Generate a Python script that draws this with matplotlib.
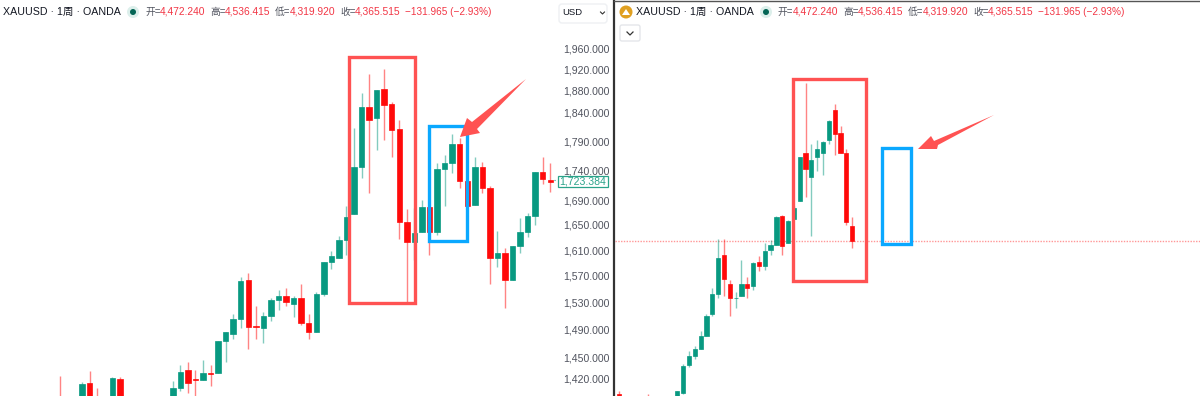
import matplotlib
matplotlib.use("Agg")
import matplotlib.pyplot as plt
from matplotlib.patches import Rectangle, Polygon, Circle, FancyBboxPatch

plt.rcParams["font.family"] = ["Liberation Sans", "Noto Sans CJK SC", "DejaVu Sans"]

# left chart: week index, open, high, low, close
left_week = [0, 1, 4, 5, 6, 8, 9, 16, 17, 18, 19, 20, 21, 22, 23, 24, 25, 26, 27, 28, 29, 30, 31, 32, 33,
             34, 35, 36, 37, 38, 39, 40, 41, 42, 43, 44, 45, 46, 47, 48, 49, 50, 51, 52, 53, 54, 55, 56,
             57, 58, 59, 60, 61, 62, 63, 64, 65, 66]
left_open = [1380, 1395, 1380, 1414, 1392, 1375, 1420, 1385, 1408, 1432, 1420, 1418, 1428, 1428, 1473, 1484,
             1505, 1563, 1495, 1492, 1510, 1534, 1540, 1528, 1537, 1500, 1486, 1543, 1592, 1598, 1626, 1667,
             1746, 1851, 1831, 1883, 1856, 1811, 1654, 1622, 1638, 1679, 1639, 1742, 1753, 1786, 1722, 1682,
             1746, 1710, 1597, 1605, 1563, 1616, 1638, 1664, 1737, 1724]
left_high = [1397, 1424, 1416, 1431, 1407, 1422, 1422, 1417, 1439, 1443, 1432, 1446, 1439, 1474, 1486, 1512,
             1568, 1575, 1525, 1515, 1536, 1549, 1552, 1540, 1557, 1512, 1545, 1592, 1608, 1632, 1680, 1813,
             1877, 1911, 1881, 1920, 1860, 1827, 1675, 1677, 1690, 1679, 1753, 1766, 1802, 1795, 1722, 1763,
             1754, 1713, 1640, 1613, 1616, 1661, 1669, 1737, 1763, 1753]
left_low = [1375, 1370, 1370, 1370, 1370, 1370, 1370, 1380, 1403, 1401, 1393, 1418, 1410, 1428, 1443, 1476,
            1492, 1462, 1477, 1471, 1503, 1518, 1524, 1509, 1497, 1477, 1486, 1539, 1580, 1598, 1602, 1667,
            1727, 1702, 1775, 1792, 1763, 1627, 1531, 1595, 1638, 1603, 1634, 1680, 1735, 1710, 1678, 1682,
            1702, 1558, 1583, 1522, 1563, 1605, 1630, 1650, 1717, 1703]
left_close = [1390, 1385, 1413, 1380, 1380, 1421, 1375, 1408, 1429, 1415, 1418, 1428, 1427, 1473, 1486, 1505,
              1562, 1493, 1493, 1510, 1534, 1540, 1530, 1537, 1500, 1486, 1543, 1592, 1600, 1626, 1663, 1746,
              1851, 1827, 1881, 1854, 1809, 1654, 1622, 1637, 1679, 1639, 1742, 1753, 1786, 1722, 1680, 1746,
              1710, 1597, 1605, 1563, 1616, 1638, 1664, 1737, 1725, 1720]

# right chart, drawn on the same kind of price scale
right_week = [0, 5, 10, 11, 12, 13, 14, 15, 16, 17, 18, 19, 20, 21, 22, 23, 24, 25, 26, 27, 28, 29, 30, 31,
              32, 33, 34, 35, 36, 37, 38, 39, 40]
right_open = [1400, 1392, 1385, 1401, 1439, 1452, 1462, 1481, 1512, 1542, 1602, 1558, 1536, 1539, 1557, 1554,
              1591, 1585, 1610, 1618, 1664, 1621, 1659, 1688, 1770, 1729, 1763, 1770, 1792, 1845, 1804, 1770,
              1648]
right_high = [1404, 1400, 1404, 1441, 1459, 1467, 1488, 1513, 1552, 1627, 1627, 1563, 1545, 1595, 1569, 1591,
              1600, 1621, 1626, 1664, 1666, 1658, 1680, 1763, 1894, 1785, 1792, 1790, 1827, 1856, 1817, 1776,
              1663]
right_low = [1380, 1380, 1380, 1400, 1436, 1448, 1462, 1481, 1510, 1537, 1539, 1510, 1521, 1539, 1537, 1548,
             1577, 1579, 1602, 1618, 1602, 1621, 1659, 1688, 1695, 1632, 1739, 1732, 1786, 1766, 1770, 1649,
             1613]
right_close = [1385, 1385, 1403, 1438, 1452, 1462, 1480, 1510, 1542, 1597, 1565, 1537, 1537, 1558, 1552, 1590,
               1585, 1608, 1618, 1663, 1616, 1656, 1677, 1763, 1742, 1758, 1776, 1788, 1826, 1802, 1770, 1654,
               1624]

price_ticks = [1420, 1450, 1490, 1530, 1570, 1610, 1650, 1690, 1740, 1790, 1840, 1880, 1920, 1960]
last_price = 1723.384
last_close = 1624

header_labels = ["开=", "高=", "低=", "收="]
header_values = ["4,472.240", "4,536.415", "4,319.920", "4,365.515"]
header_change = "−131.965 (−2.93%)"

GREEN = "#089981"
RED = "#ff0a0a"
MARK = "#ff5252"
BLUE = "#0aa8ff"
W, H = 1200, 396
PRICE_TOP, PRICE_BOTTOM = 2054, 1396.6


def make_axes(fig, x0, x1, first_x, step):
    ax = fig.add_axes([x0 / W, 0, (x1 - x0) / W, 1])
    ax.set_xlim((x0 - first_x) / step, (x1 - first_x) / step)
    ax.set_yscale("log")
    ax.set_ylim(PRICE_BOTTOM, PRICE_TOP)
    ax.minorticks_off()
    ax.set_xticks([])
    ax.set_yticks([])
    for s in ax.spines.values():
        s.set_visible(False)
    return ax


def candles(ax, week, opens, highs, lows, closes, width):
    for k, o, h, l, c in zip(week, opens, highs, lows, closes):
        col = GREEN if c >= o else RED
        ax.vlines(k, l, h, color=col, linewidth=1, alpha=0.5, zorder=2)
        ax.bar(k, abs(c - o), bottom=min(o, c), width=width, color=col, edgecolor=col, linewidth=0.5, zorder=3)


def header(ov, name_x, dot_x, label_xs, value_xs, change_x):
    ov.text(name_x, 11.5, "XAUUSD · 1周 · OANDA", fontsize=7.65, color="#131722", va="center")
    ov.add_patch(Circle((dot_x, 12), 6, color="#dcefeb", lw=0))
    ov.add_patch(Circle((dot_x, 12), 3, color="#056656", lw=0))
    for lab, val, lx, vx in zip(header_labels, header_values, label_xs, value_xs):
        ov.text(lx, 12, lab, fontsize=7, color="#50535e", va="center")
        ov.text(vx, 12, val, fontsize=7.4, color="#f23645", va="center")
    ov.text(change_x, 12, header_change, fontsize=7.2, color="#f23645", va="center")


fig = plt.figure(figsize=(W / 100, H / 100), dpi=100, facecolor="white")

ax1 = make_axes(fig, 0, 557, 52, 7.55)
candles(ax1, left_week, left_open, left_high, left_low, left_close, 0.72)
ax1.yaxis.tick_right()
ax1.set_yticks(price_ticks)
ax1.set_yticklabels([f"{p:,.3f}" for p in price_ticks], fontsize=7.6, color="#50535e")
ax1.tick_params(axis="y", length=0, pad=4.5)
ax1.axhline(last_price, xmin=0.995, color="#2aa38a", linewidth=0.8, linestyle=":")

ax2 = make_axes(fig, 615, 1200, 619, 5.83)
ax2.axhline(last_close, color="#ff5252", linewidth=1, linestyle=(0, (1, 1)), alpha=0.6, zorder=1)
candles(ax2, right_week, right_open, right_high, right_low, right_close, 0.72)

# overlay in picture pixels for header and the hand-drawn boxes/arrows
ov = fig.add_axes([0, 0, 1, 1])
ov.set_xlim(0, W)
ov.set_ylim(H, 0)
ov.axis("off")
ov.patch.set_alpha(0)

header(ov, 3, 133, [145, 210, 275, 340], [160, 225, 290, 355], 405)
header(ov, 636, 766, [778, 843, 908, 973], [793, 858, 923, 988], 1038)
ov.add_patch(Circle((626, 12), 6.5, color="#e0a021", lw=0))
ov.add_patch(Polygon([(622, 15), (626, 9), (630, 15)], color="white", lw=0))

ov.add_patch(FancyBboxPatch((559, 4), 48, 19, boxstyle="round,pad=0,rounding_size=3", fc="white", ec="#eef0f3", lw=1))
ov.text(562, 12.5, "USD", fontsize=6.8, color="#131722", va="center")
ov.plot([600.5, 602.5, 604.5], [12, 14, 12], color="#333333", lw=0.8)

ov.add_patch(FancyBboxPatch((620, 25), 20, 16, boxstyle="round,pad=0,rounding_size=2", fc="white", ec="#e4e6ea", lw=1))
ov.plot([627, 630, 633], [32, 35, 32], color="#333333", lw=0.9)

ov.add_patch(Rectangle((557.5, 175.5), 50.5, 11, fc="white", ec="#2aa38a", lw=0.9, zorder=4))
ov.text(583, 181, "1,723.384", fontsize=7.6, color="#2aa38a", ha="center", va="center", zorder=5)

ov.plot([614, 614], [0, H], color="#333333", lw=1.6)
ov.plot([614, W], [0.5, 0.5], color="#555555", lw=1)

for x0, y0, x1, y1, col, lw in [(349, 57, 415, 303, MARK, 2.4), (429, 126, 467, 241, BLUE, 2.4),
                                (793, 79, 866, 281, MARK, 2.4), (882, 148, 911, 244, BLUE, 2.4)]:
    ov.add_patch(Rectangle((x0, y0), x1 - x0, y1 - y0, fill=False, ec=col, lw=lw, zorder=6))

ov.add_patch(Polygon([(526, 79), (477, 129), (480, 133), (460, 137), (467, 118), (472, 122)],
                     fc=MARK, ec="none", zorder=7))
ov.add_patch(Polygon([(994, 115), (938, 145), (937, 149), (918, 149), (931, 136), (934, 141)],
                     fc=MARK, ec="none", zorder=7))

fig.savefig("out.png", dpi=100)
